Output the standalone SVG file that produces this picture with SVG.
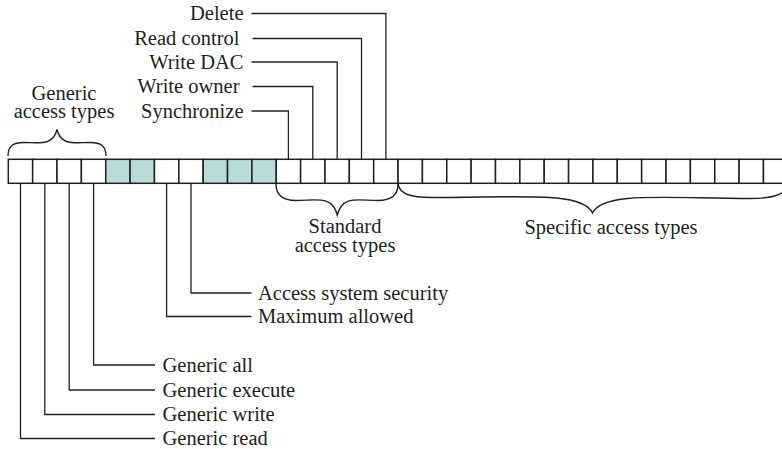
<svg xmlns="http://www.w3.org/2000/svg" width="782" height="449" viewBox="0 0 782 449">
<style>
text{font-family:"Liberation Serif","Times New Roman",serif;font-size:20.5px;fill:#231f20}
.e{text-anchor:end}
.m{text-anchor:middle}
.c{fill:#ffffff;stroke:#231f20;stroke-width:1.5}
.t{fill:#b9dcd8;stroke:#231f20;stroke-width:1.5}
.ln{fill:none;stroke:#231f20;stroke-width:1.3}
.br{fill:none;stroke:#231f20;stroke-width:1.4}
</style>
<rect width="782" height="449" fill="#ffffff"/>
<g id="mask">
<rect class="c" x="8.3" y="159.3" width="24.36" height="24"/>
<rect class="c" x="32.66" y="159.3" width="24.36" height="24"/>
<rect class="c" x="57.02" y="159.3" width="24.36" height="24"/>
<rect class="c" x="81.38" y="159.3" width="24.36" height="24"/>
<rect class="t" x="105.74" y="159.3" width="24.36" height="24"/>
<rect class="t" x="130.1" y="159.3" width="24.36" height="24"/>
<rect class="c" x="154.46" y="159.3" width="24.36" height="24"/>
<rect class="c" x="178.82" y="159.3" width="24.36" height="24"/>
<rect class="t" x="203.18" y="159.3" width="24.36" height="24"/>
<rect class="t" x="227.54" y="159.3" width="24.36" height="24"/>
<rect class="t" x="251.9" y="159.3" width="24.36" height="24"/>
<rect class="c" x="276.26" y="159.3" width="24.36" height="24"/>
<rect class="c" x="300.62" y="159.3" width="24.36" height="24"/>
<rect class="c" x="324.98" y="159.3" width="24.36" height="24"/>
<rect class="c" x="349.34" y="159.3" width="24.36" height="24"/>
<rect class="c" x="373.7" y="159.3" width="24.36" height="24"/>
<rect class="c" x="398.06" y="159.3" width="24.36" height="24"/>
<rect class="c" x="422.42" y="159.3" width="24.36" height="24"/>
<rect class="c" x="446.78" y="159.3" width="24.36" height="24"/>
<rect class="c" x="471.14" y="159.3" width="24.36" height="24"/>
<rect class="c" x="495.5" y="159.3" width="24.36" height="24"/>
<rect class="c" x="519.86" y="159.3" width="24.36" height="24"/>
<rect class="c" x="544.22" y="159.3" width="24.36" height="24"/>
<rect class="c" x="568.58" y="159.3" width="24.36" height="24"/>
<rect class="c" x="592.94" y="159.3" width="24.36" height="24"/>
<rect class="c" x="617.3" y="159.3" width="24.36" height="24"/>
<rect class="c" x="641.66" y="159.3" width="24.36" height="24"/>
<rect class="c" x="666.02" y="159.3" width="24.36" height="24"/>
<rect class="c" x="690.38" y="159.3" width="24.36" height="24"/>
<rect class="c" x="714.74" y="159.3" width="24.36" height="24"/>
<rect class="c" x="739.1" y="159.3" width="24.36" height="24"/>
<rect class="c" x="763.46" y="159.3" width="24.36" height="24"/>
</g>
<g id="braces">
<path class="br" d="M8,156 C8,146 13,142.5 24,142.5 C40,142.5 53,146 57,129.5 C61,146 74,142.5 90,142.5 C101,142.5 106,146 106,156"/>
<path class="br" d="M276,184 C276,195 283,200.5 296,200.5 C316,200.5 332,195 337.3,215 C342.6,195 358,200.5 378,200.5 C391,200.5 398,195 398,184"/>
<path class="br" d="M398,184 C400,194 410,197.5 432,197.5 C520,197.5 582,191 592.5,213 C603,191 668,198.5 750,198.5 C775,198.5 786,194 788,184"/>
</g>
<g id="connectors">
<polyline class="ln" points="251.5,13.5 385.9,13.5 385.9,159.3"/>
<polyline class="ln" points="252.5,38.5 361.5,38.5 361.5,159.3"/>
<polyline class="ln" points="251.5,62 337.2,62 337.2,159.3"/>
<polyline class="ln" points="252.5,86.5 312.8,86.5 312.8,159.3"/>
<polyline class="ln" points="251.5,111 288.4,111 288.4,159.3"/>
<polyline class="ln" points="191,183.3 191,293 251.5,293"/>
<polyline class="ln" points="166.6,183.3 166.6,316.5 251.5,316.5"/>
<polyline class="ln" points="93.6,183.3 93.6,365 155,365"/>
<polyline class="ln" points="69.2,183.3 69.2,390 155,390"/>
<polyline class="ln" points="44.8,183.3 44.8,414.5 155,414.5"/>
<polyline class="ln" points="20.5,183.3 20.5,438.5 155,438.5"/>
</g>
<g id="label-delete"><text class="e" x="243.5" y="20">Delete</text></g>
<g id="label-read-control"><text class="e" x="239.5" y="45">Read control</text></g>
<g id="label-write-dac"><text class="e" x="243.5" y="68.5">Write DAC</text></g>
<g id="label-write-owner"><text class="e" x="239.5" y="93">Write owner</text></g>
<g id="label-synchronize"><text class="e" x="243.5" y="117.5">Synchronize</text></g>
<g id="label-generic-access"><text class="m" x="64" y="99.5">Generic</text><text class="m" x="64" y="118">access types</text></g>
<g id="label-standard-access"><text class="m" x="345" y="233">Standard</text><text class="m" x="345" y="252">access types</text></g>
<g id="label-specific-access"><text class="m" x="611" y="233.5">Specific access types</text></g>
<g id="label-access-system-security"><text x="258" y="299.5">Access system security</text></g>
<g id="label-maximum-allowed"><text x="258" y="323">Maximum allowed</text></g>
<g id="label-generic-all"><text x="162.5" y="371.5">Generic all</text></g>
<g id="label-generic-execute"><text x="162.5" y="396.5">Generic execute</text></g>
<g id="label-generic-write"><text x="162.5" y="421">Generic write</text></g>
<g id="label-generic-read"><text x="162.5" y="445">Generic read</text></g>
</svg>
